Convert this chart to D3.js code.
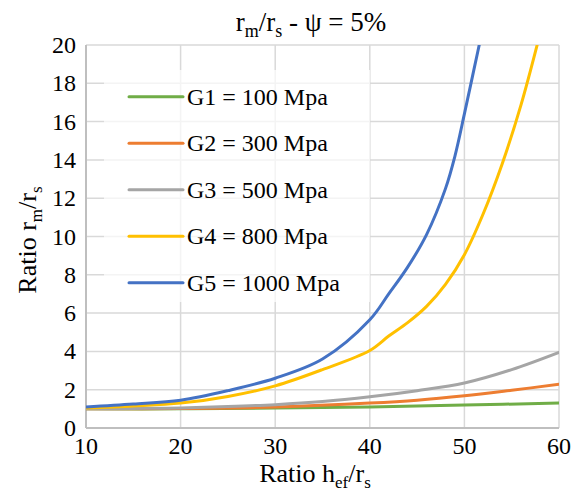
<!DOCTYPE html>
<html>
<head>
<meta charset="utf-8">
<script src="https://cdn.jsdelivr.net/npm/d3@7"></script>
<style>
  body { margin: 0; background: #fff; }
</style>
</head>
<body>
<div id="chart"></div>
<script>
const seriesNames = ["G1 = 100 Mpa", "G2 = 300 Mpa", "G3 = 500 Mpa", "G4 = 800 Mpa", "G5 = 1000 Mpa"];
const colors = ["#70AD47", "#ED7D31", "#A5A5A5", "#FFC000", "#4472C4"];

const g1x = [10, 20, 30, 40, 50, 60];
const g1y = [1.0, 1.0, 1.04, 1.1, 1.2, 1.3];
const g2x = [10, 20, 30, 40, 45, 50, 55, 60];
const g2y = [1.0, 1.02, 1.1, 1.3, 1.45, 1.68, 1.97, 2.28];
const g3x = [10, 15, 20, 25, 30, 35, 40, 45, 50, 55, 60];
const g3y = [1.0, 1.02, 1.05, 1.12, 1.22, 1.38, 1.63, 1.95, 2.35, 3.05, 3.95];
const g4x = [10, 15, 20, 25, 30, 35, 40, 42, 44, 46, 48, 50, 52, 54, 56, 58];
const g4y = [1.05, 1.15, 1.3, 1.65, 2.2, 3.05, 4.05, 4.8, 5.5, 6.35, 7.5, 9.05, 11.2, 13.8, 16.9, 20.6];
const g5x = [10, 15, 20, 25, 30, 35, 40, 42, 44, 46, 48, 49, 50, 51, 52];
const g5y = [1.1, 1.25, 1.45, 1.95, 2.6, 3.6, 5.65, 7.0, 8.4, 10.1, 12.5, 14.2, 16.4, 18.7, 21.0];

const xTicks = [10, 20, 30, 40, 50, 60];
const yTicks = [0, 2, 4, 6, 8, 10, 12, 14, 16, 18, 20];

const allX = [g1x, g2x, g3x, g4x, g5x];
const allY = [g1y, g2y, g3y, g4y, g5y];
const series = seriesNames.map((name, i) => ({
    name: name,
    color: colors[i],
    values: allX[i].map((x, j) => ({x: x, y: allY[i][j]}))
}));

const font = "'Liberation Serif', 'Times New Roman', Times, serif";
const width = 580, height = 495;
const svg = d3.select("#chart")
              .append("svg")
              .attr("width", width)
              .attr("height", height)
              .attr("font-family", font)
              .style("font-family", font);

const xScale = d3.scaleLinear().domain([10, 60]).range([86, 559]);
const yScale = d3.scaleLinear().domain([0, 20]).range([428, 45]);

// gridlines
svg.append("g")
   .selectAll("line")
   .data(yTicks.slice(1))
   .join("line")
   .attr("x1", xScale(10)).attr("x2", xScale(60))
   .attr("y1", d => yScale(d)).attr("y2", d => yScale(d))
   .attr("stroke", "#d9d9d9")
   .attr("stroke-width", 1.5);

svg.append("g")
   .selectAll("line")
   .data(xTicks.slice(1))
   .join("line")
   .attr("x1", d => xScale(d)).attr("x2", d => xScale(d))
   .attr("y1", yScale(0)).attr("y2", yScale(20))
   .attr("stroke", "#d9d9d9")
   .attr("stroke-width", 1.5);

// axis lines
svg.append("line")
   .attr("x1", xScale(10)).attr("x2", xScale(10))
   .attr("y1", yScale(0)).attr("y2", yScale(20))
   .attr("stroke", "#bfbfbf").attr("stroke-width", 2);
svg.append("line")
   .attr("x1", xScale(10)).attr("x2", xScale(60))
   .attr("y1", yScale(0)).attr("y2", yScale(0))
   .attr("stroke", "#bfbfbf").attr("stroke-width", 2);

// tick labels
svg.append("g")
   .selectAll("text")
   .data(yTicks)
   .join("text")
   .text(d => d)
   .attr("x", 76)
   .attr("y", d => yScale(d) + 8)
   .attr("text-anchor", "end")
   .style("font-family", font)
   .style("font-size", "24px");

svg.append("g")
   .selectAll("text")
   .data(xTicks)
   .join("text")
   .text(d => d)
   .attr("x", d => xScale(d))
   .attr("y", 454)
   .attr("text-anchor", "middle")
   .style("font-family", font)
   .style("font-size", "24px");

// legend box (semi transparent)
svg.append("rect")
   .attr("x", 104).attr("y", 70)
   .attr("width", 266).attr("height", 232)
   .attr("fill", "#fff")
   .attr("fill-opacity", 0.7);

// lines
svg.append("clipPath").attr("id", "plot-clip")
   .append("rect")
   .attr("x", xScale(10)).attr("y", yScale(20))
   .attr("width", xScale(60) - xScale(10))
   .attr("height", yScale(0) - yScale(20));

const line = d3.line()
               .x(d => xScale(d.x))
               .y(d => yScale(d.y))
               .curve(d3.curveCatmullRom.alpha(0.5));

svg.append("g")
   .attr("clip-path", "url(#plot-clip)")
   .selectAll("path")
   .data(series)
   .join("path")
   .attr("d", d => line(d.values))
   .attr("fill", "none")
   .attr("stroke", d => d.color)
   .attr("stroke-width", 3)
   .attr("stroke-linecap", "round");

// legend
const legend = svg.append("g")
                  .selectAll("g")
                  .data(series)
                  .join("g")
                  .attr("transform", (d, i) => `translate(0, ${96.7 + i * 46.5})`);

legend.append("line")
      .attr("x1", 129).attr("x2", 183)
      .attr("y1", 0).attr("y2", 0)
      .attr("stroke", d => d.color)
      .attr("stroke-width", 3)
      .attr("stroke-linecap", "round");

legend.append("text")
      .text(d => d.name)
      .attr("x", 187)
      .attr("y", 8)
      .style("font-family", font)
      .style("font-size", "24px");

// title
const title = svg.append("text")
                 .attr("x", 311)
                 .attr("y", 31)
                 .attr("text-anchor", "middle")
                 .style("font-family", font)
                 .style("font-size", "27px");
title.append("tspan").text("r");
title.append("tspan").text("m").attr("dy", 6).style("font-size", "18px");
title.append("tspan").text("/r").attr("dy", -6);
title.append("tspan").text("s").attr("dy", 6).style("font-size", "18px");
title.append("tspan").text(" - \u03C8 = 5%").attr("dy", -6);

// x axis title
const xTitle = svg.append("text")
                  .attr("x", 315)
                  .attr("y", 482)
                  .attr("text-anchor", "middle")
                  .style("font-family", font)
                  .style("font-size", "26px");
xTitle.append("tspan").text("Ratio h");
xTitle.append("tspan").text("ef").attr("dy", 6).style("font-size", "17px");
xTitle.append("tspan").text("/r").attr("dy", -6);
xTitle.append("tspan").text("s").attr("dy", 6).style("font-size", "17px");

// y axis title
const yTitle = svg.append("text")
                  .attr("transform", `translate(36, 240) rotate(-90)`)
                  .attr("text-anchor", "middle")
                  .style("font-family", font)
                  .style("font-size", "26px");
yTitle.append("tspan").text("Ratio r");
yTitle.append("tspan").text("m").attr("dy", 6).style("font-size", "17px");
yTitle.append("tspan").text("/r").attr("dy", -6);
yTitle.append("tspan").text("s").attr("dy", 6).style("font-size", "17px");
</script>
</body>
</html>
